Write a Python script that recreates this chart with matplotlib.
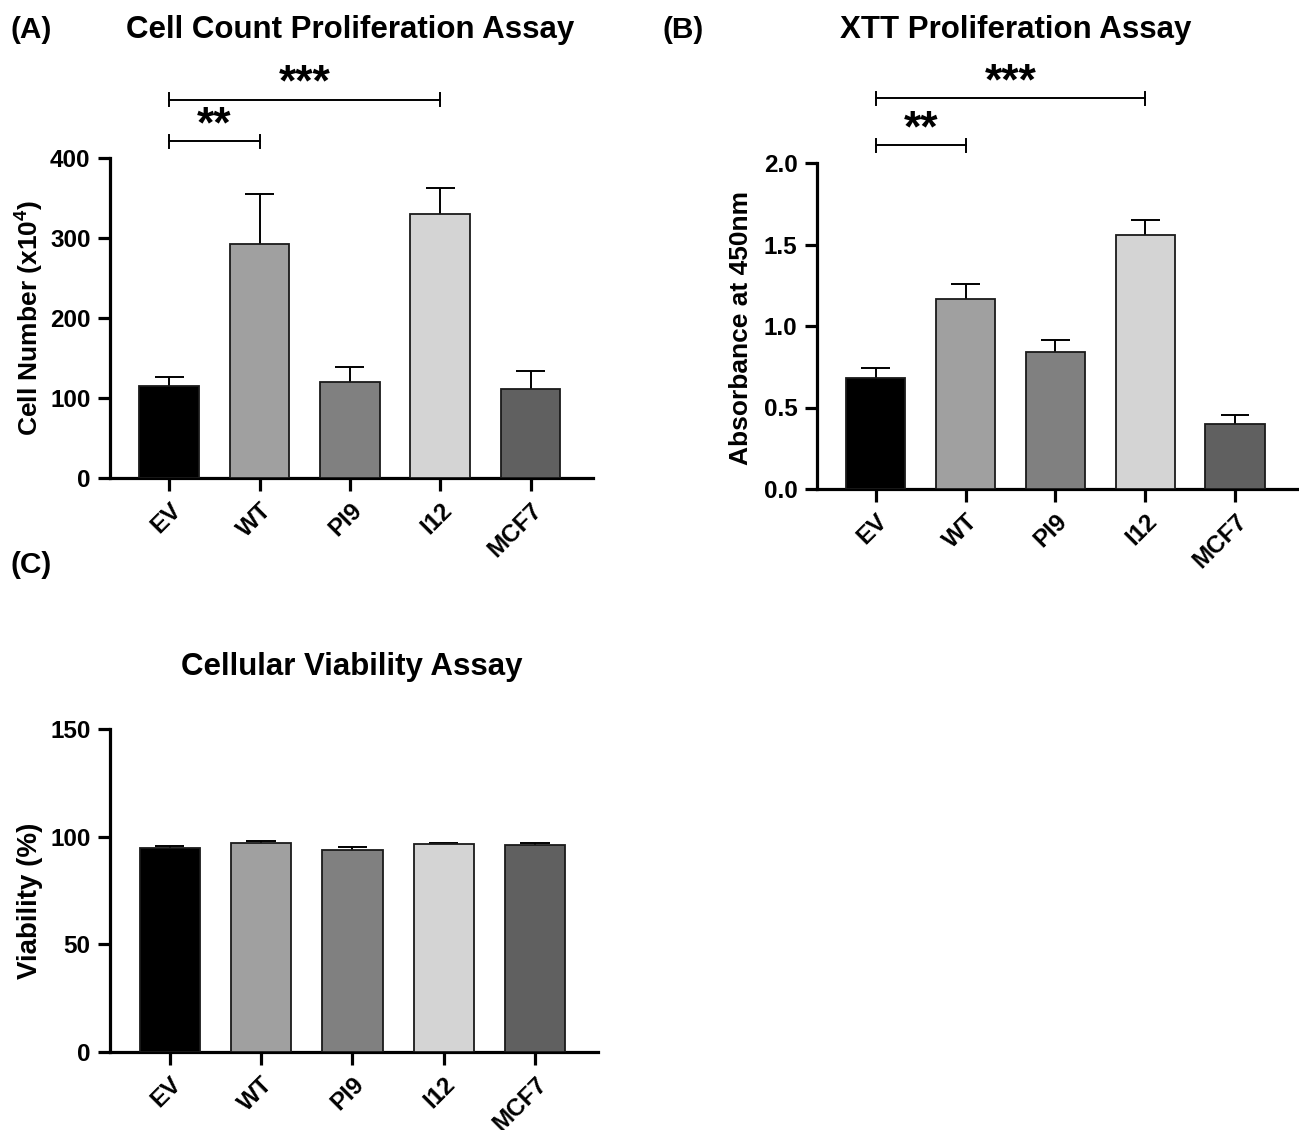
import matplotlib
matplotlib.use('Agg')
import matplotlib.pyplot as plt
import numpy as np

plt.rcParams['font.family'] = ['Liberation Sans', 'DejaVu Sans']
plt.rcParams['font.weight'] = 'bold'
plt.rcParams['mathtext.fontset'] = 'custom'
plt.rcParams['mathtext.rm'] = 'Liberation Sans:bold'
plt.rcParams['mathtext.bf'] = 'Liberation Sans:bold'
plt.rcParams['mathtext.default'] = 'bf'

groups = ['EV', 'WT', 'PI9', 'I12', 'MCF7']
bar_colors = ['#000000', '#a0a0a0', '#808080', '#d4d4d4', '#606060']

# (A) cell count, x10^4
count_mean = [115, 293, 120, 330, 111]
count_sem = [11, 62, 19, 33, 23]

# (B) XTT absorbance
xtt_mean = [0.678, 1.165, 0.840, 1.557, 0.400]
xtt_sem = [0.063, 0.094, 0.073, 0.094, 0.051]

# (C) viability %
via_mean = [94.6, 97.2, 93.8, 96.5, 96.1]
via_sem = [1.1, 0.8, 1.4, 0.7, 1.1]

# significance brackets: (start, end, bracket y, star baseline y, label)
count_sig = [(0, 1, 421, 426, '**'), (0, 3, 473, 478, '***')]
xtt_sig = [(0, 1, 2.11, 2.135, '**'), (0, 3, 2.397, 2.422, '***')]

W, H = 1299, 1130
fig = plt.figure(figsize=(W / 100, H / 100), dpi=100)


def px_axes(left, right, top, bottom):
    return fig.add_axes([left / W, 1 - bottom / H, (right - left) / W, (bottom - top) / H])


def bar_panel(ax, means, sems, ymax, yticks, ticklabels, sig=None, tick_h=None):
    x = np.arange(len(groups))
    ax.bar(x, means, width=0.66, color=bar_colors, edgecolor='#1a1a1a', linewidth=1.3, zorder=3)
    top = np.array(means) + np.array(sems)
    ax.vlines(x, means, top, color='black', linewidth=1.4, zorder=2)
    ax.hlines(top, x - 0.16, x + 0.16, color='black', linewidth=1.4, zorder=2)
    ax.set_xlim(-0.655, 4.69)
    ax.set_ylim(0, ymax)
    ax.set_yticks(yticks)
    ax.set_yticklabels(ticklabels)
    ax.set_xticks(x)
    ax.set_xticklabels(groups, rotation=45, ha='right', rotation_mode='anchor')
    for s in ['top', 'right']:
        ax.spines[s].set_visible(False)
    for s in ['left', 'bottom']:
        ax.spines[s].set_linewidth(2.3)
    ax.tick_params(axis='both', width=2.3, length=9, labelsize=17.5, pad=5)
    ax.tick_params(axis='x', pad=6)
    for lab in ax.get_xticklabels() + ax.get_yticklabels():
        lab.set_fontweight('bold')
    if sig:
        for a, b, yb, ys, txt in sig:
            ax.plot([a, b], [yb, yb], color='black', lw=1.4, clip_on=False)
            for xe in (a, b):
                ax.plot([xe, xe], [yb - tick_h, yb + tick_h], color='black', lw=1.4, clip_on=False)
            ax.text((a + b) / 2, ys, txt, ha='center', va='baseline', fontsize=32,
                    fontweight='bold', clip_on=False)


axA = px_axes(110, 593, 158, 478)
bar_panel(axA, count_mean, count_sem, 400, [0, 100, 200, 300, 400],
          ['0', '100', '200', '300', '400'], count_sig, 8)

axB = px_axes(817, 1297, 163, 489)
bar_panel(axB, xtt_mean, xtt_sem, 2.0, [0, 0.5, 1.0, 1.5, 2.0],
          ['0.0', '0.5', '1.0', '1.5', '2.0'], xtt_sig, 0.04)

axC = px_axes(110, 598, 729, 1052)
bar_panel(axC, via_mean, via_sem, 150, [0, 50, 100, 150], ['0', '50', '100', '150'])


# titles, panel letters, y labels
def ftxt(x, y, s, **kw):
    fig.text(x / W, 1 - y / H, s, fontweight='bold', **kw)


ftxt(350, 30, 'Cell Count Proliferation Assay', ha='center', va='center', fontsize=22.5)
ftxt(1016, 30, 'XTT Proliferation Assay', ha='center', va='center', fontsize=22.5)
ftxt(352, 667, 'Cellular Viability Assay', ha='center', va='center', fontsize=22.5)
ftxt(10, 30, '(A)', ha='left', va='center', fontsize=21.5)
ftxt(663, 30, '(B)', ha='left', va='center', fontsize=21.5)
ftxt(10, 565, '(C)', ha='left', va='center', fontsize=21.5)
ftxt(30, 318, 'Cell Number (x10$^{4}$)', ha='center', va='center', rotation=90, fontsize=19)
ftxt(741, 328, 'Absorbance at 450nm', ha='center', va='center', rotation=90, fontsize=19)
ftxt(30, 901, 'Viability (%)', ha='center', va='center', rotation=90, fontsize=20)

fig.savefig('out.png', dpi=100)
